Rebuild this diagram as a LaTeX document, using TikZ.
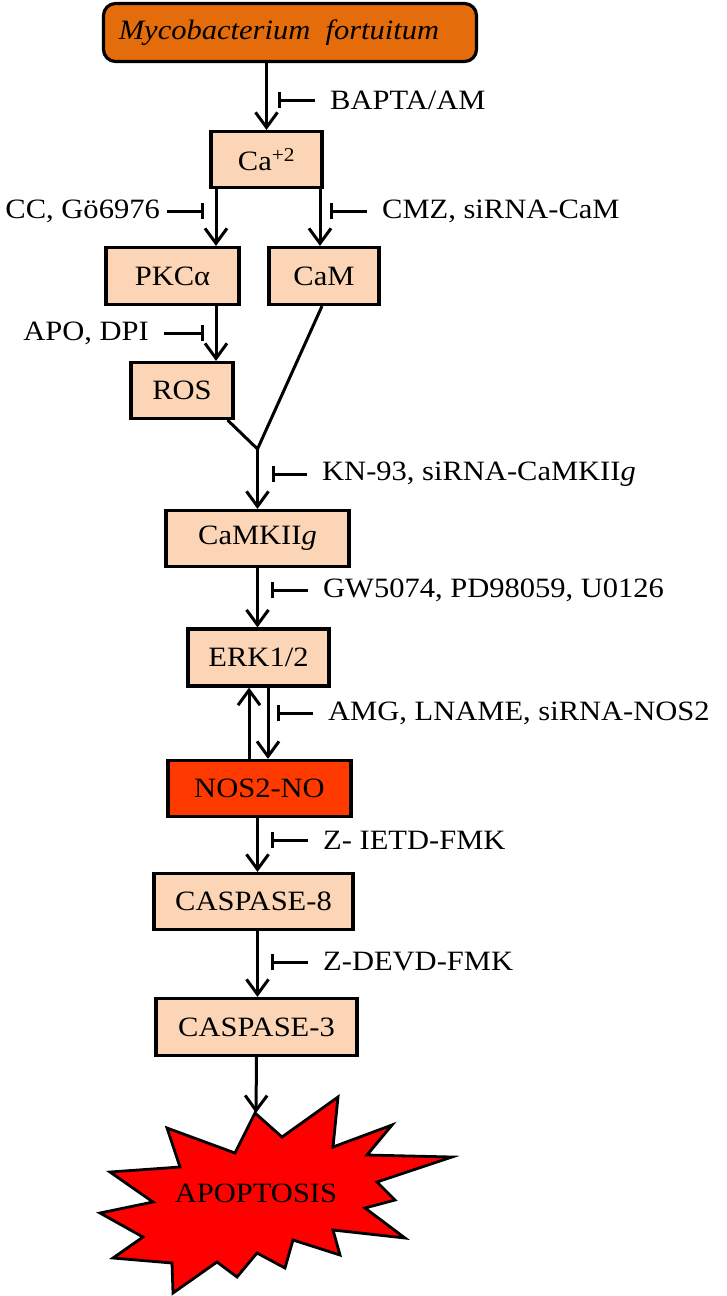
\documentclass[tikz,border=0pt]{standalone}
\usepackage{fontspec}
\setmainfont{Liberation Serif}[FakeStretch=1.09]
\usetikzlibrary{arrows.meta,calc}
\definecolor{mycoorange}{RGB}{228,108,10}
\definecolor{peach}{RGB}{251,213,181}
\definecolor{nosred}{RGB}{255,58,0}
\definecolor{burstred}{RGB}{255,0,0}
\begin{document}
\begin{tikzpicture}[x=1pt,y=-1pt,
  every node/.style={font=\fontsize{28}{33}\selectfont},
  box/.style={draw=black,line width=3.2pt,fill=peach,inner sep=0pt,minimum width=#1,minimum height=56pt},
  arr/.style={line width=3pt,-{Straight Barb[length=15pt,width=22pt]}},
  inh/.style={line width=3pt,-{Bar[width=16pt]},shorten <=15pt},
  lblR/.style={inner sep=0pt,anchor=west},
  lblL/.style={inner sep=0pt,anchor=east}]
\useasboundingbox (0,0) rectangle (727,1296);

% nodes
\node[draw=black,line width=3.2pt,fill=mycoorange,rounded corners=12pt,minimum width=373pt,minimum height=58pt,inner sep=0pt] (myco) at (290,32.5) {\textit{Mycobacterium\ \ fortuitum}\hspace*{22pt}};
\node[box=111pt] (ca) at (266.5,159.5) {Ca\textsuperscript{+2}};
\node[box=133pt,minimum height=57pt] (pkc) at (172.5,276) {PKCα};
\node[box=110pt,minimum height=57pt] (cam) at (324,276) {CaM};
\node[box=102pt] (ros) at (182,390.5) {ROS};
\node[box=183pt] (camk) at (257.5,538.5) {CaMKII\textit{g}};
\node[box=141pt,minimum height=57pt] (erk) at (258.5,657.5) {ERK1/2};
\node[box=183pt,fill=nosred] (nos) at (259.5,788.5) {NOS2-NO};
\node[box=199pt] (cas8) at (253.5,901.5) {CASPASE-8};
\node[box=201pt,minimum height=57pt] (cas3) at (256.5,1027) {CASPASE-3};

% starburst
\draw[line width=2.8pt,fill=burstred,line join=miter]
  (255,1113) -- (282,1137) -- (338,1097) -- (333,1147) -- (392,1125) -- (367,1155)
  -- (452,1157) -- (377,1182) -- (395,1200) -- (365,1208) -- (405,1238) -- (333,1230)
  -- (340,1255) -- (293,1240) -- (285,1268) -- (257,1253) -- (237,1277) -- (217,1262)
  -- (173,1293) -- (172,1263) -- (113,1258) -- (143,1237) -- (100,1213) -- (153,1202)
  -- (110,1172) -- (180,1167) -- (167,1128) -- (235,1153) -- cycle;
\node (apop) at (256,1193) {APOPTOSIS};
\coordinate (tip) at (256,1113);

% junction
\coordinate (j) at (257.5,449);

% connectors
\draw[arr] (myco.south -| ca.north) -- (ca.north);
\draw[arr] ([xshift=-50.5pt]ca.south) -- ([xshift=-50.5pt]ca.south |- pkc.north);
\draw[arr] ([xshift=53.5pt]ca.south) -- ([xshift=53.5pt]ca.south |- cam.north);
\draw[arr] ([xshift=-50.5pt]ca.south |- pkc.south) -- ([xshift=-50.5pt]ca.south |- ros.north);
\draw[line width=3pt] ([xshift=-7pt]ros.south east) -- (j);
\draw[line width=3pt] ([xshift=-2pt]cam.south) -- (j);
\draw[arr] (j) -- (camk.north);
\draw[arr] (camk.south) -- (erk.north -| camk.south);
\draw[arr] ([xshift=-9.5pt]erk.south |- nos.north) -- ([xshift=-9.5pt]erk.south);
\draw[arr] ([xshift=9.5pt]erk.south) -- ([xshift=9.5pt]erk.south |- nos.north);
\draw[arr] (nos.south -| camk.south) -- (cas8.north -| camk.south);
\draw[arr] (cas8.south -| camk.south) -- (cas3.north -| camk.south);
\draw[arr] (cas3.south) -- (tip);

% inhibitors
\node[lblR] (i1) at (330,100) {BAPTA/AM};
\coordinate (b1) at (278,100);
\draw[inh] (i1.west) -- (b1);
\node[lblR] (i2) at (382,211) {CMZ, siRNA-CaM};
\coordinate (b2) at (330,211);
\draw[inh] (i2.west) -- (b2);
\node[lblL] (i3) at (160,211) {CC, Gö6976};
\coordinate (b3) at (204,211);
\draw[inh,shorten <=7pt] (i3.east) -- (b3);
\node[lblL] (i4) at (149,333) {APO, DPI};
\coordinate (b4) at (204,333);
\draw[inh] (i4.east) -- (b4);
\node[lblR] (i5) at (322,474) {KN-93, siRNA-CaMKII\textit{g}};
\coordinate (b5) at (272,474);
\draw[inh] (i5.west) -- (b5);
\node[lblR] (i6) at (323,590) {GW5074, PD98059, U0126};
\coordinate (b6) at (271,590);
\draw[inh] (i6.west) -- (b6);
\node[lblR] (i7) at (328,713) {AMG, LNAME, siRNA-NOS2};
\coordinate (b7) at (277,713);
\draw[inh] (i7.west) -- (b7);
\node[lblR] (i8) at (323,840) {Z- IETD-FMK};
\coordinate (b8) at (271,840);
\draw[inh] (i8.west) -- (b8);
\node[lblR] (i9) at (323,962) {Z-DEVD-FMK};
\coordinate (b9) at (271,962);
\draw[inh] (i9.west) -- (b9);
\end{tikzpicture}
\end{document}
